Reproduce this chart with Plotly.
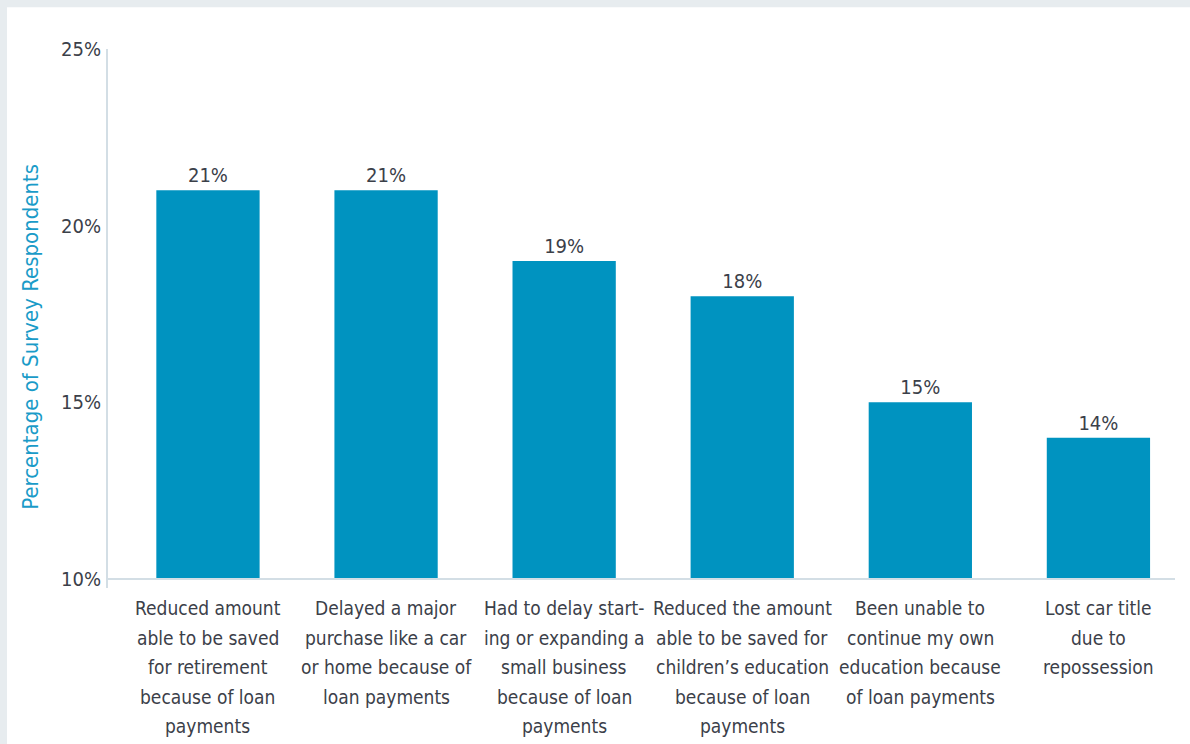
import plotly.graph_objects as go

categories = [
    "Reduced amount<br>able to be saved<br>for retirement<br>because of loan<br>payments",
    "Delayed a major<br>purchase like a car<br>or home because of<br>loan payments",
    "Had to delay start-<br>ing or expanding a<br>small business<br>because of loan<br>payments",
    "Reduced the amount<br>able to be saved for<br>children\u2019s education<br>because of loan<br>payments",
    "Been unable to<br>continue my own<br>education because<br>of loan payments",
    "Lost car title<br>due to<br>repossession",
]
values = [21, 21, 19, 18, 15, 14]
y_ticks = [10, 15, 20, 25]
y_tick_labels = ["10%", "15%", "20%", "25%"]

FONT = "DejaVu Sans Condensed, Liberation Sans Narrow, Arial Narrow, sans-serif"
TEXT = "#3b4049"
BAR = "#0093c0"
AXIS = "#d3dee5"
LINE_GAP = 29.5  # px between lines of a category label

fig = go.Figure(
    go.Bar(
        x=list(range(len(categories))),
        y=values,
        marker=dict(color=BAR, line=dict(width=0)),
        width=0.58,
        text=[f"{v}%" for v in values],
        textposition="outside",
        textfont=dict(family=FONT, size=20, color=TEXT),
        cliponaxis=True,
    )
)

# category labels, one annotation per line so the leading can be set
label_annotations = []
for i, cat in enumerate(categories):
    for j, line in enumerate(cat.split("<br>")):
        label_annotations.append(dict(
            text=line, xref="x", yref="paper", x=i, y=0,
            yshift=-(29 + LINE_GAP * j), showarrow=False,
            xanchor="center", yanchor="middle",
            font=dict(family=FONT, size=19, color=TEXT),
        ))

fig.update_layout(
    width=1190,
    height=744,
    margin=dict(l=107, r=15, t=49, b=165),
    paper_bgcolor="#e7ecef",
    plot_bgcolor="white",
    showlegend=False,
    font=dict(family=FONT, color=TEXT),
    shapes=[
        # white card on the grey page
        dict(type="rect", xref="paper", yref="paper", x0=-0.0936, x1=1.02,
             y0=-0.32, y1=1.079, fillcolor="white", line=dict(width=0), layer="below"),
        # left axis rule
        dict(type="line", xref="paper", yref="paper", x0=0, x1=0, y0=-0.017, y1=1.0,
             line=dict(color=AXIS, width=2)),
        # baseline rule
        dict(type="line", xref="paper", yref="paper", x0=0, x1=1, y0=0, y1=0,
             line=dict(color=AXIS, width=2)),
    ],
    annotations=[
        dict(text="Percentage of Survey Respondents", xref="paper", yref="paper",
             x=-0.0712, y=0.457, textangle=-90, showarrow=False,
             font=dict(family=FONT, size=22, color="#1a9bc8"),
             xanchor="center", yanchor="middle"),
    ] + label_annotations,
)

fig.update_xaxes(
    range=[-0.567, 5.43],
    tickmode="array",
    tickvals=list(range(len(categories))),
    showticklabels=False,
    showline=False,
    showgrid=False,
    zeroline=False,
    ticks="",
)
fig.update_yaxes(
    range=[10, 25],
    tickmode="array",
    tickvals=y_ticks,
    ticktext=y_tick_labels,
    tickfont=dict(family=FONT, size=20, color=TEXT),
    showline=False,
    showgrid=False,
    zeroline=False,
    ticks="",
    ticklabelstandoff=5,
)

fig.write_html("out.html")
